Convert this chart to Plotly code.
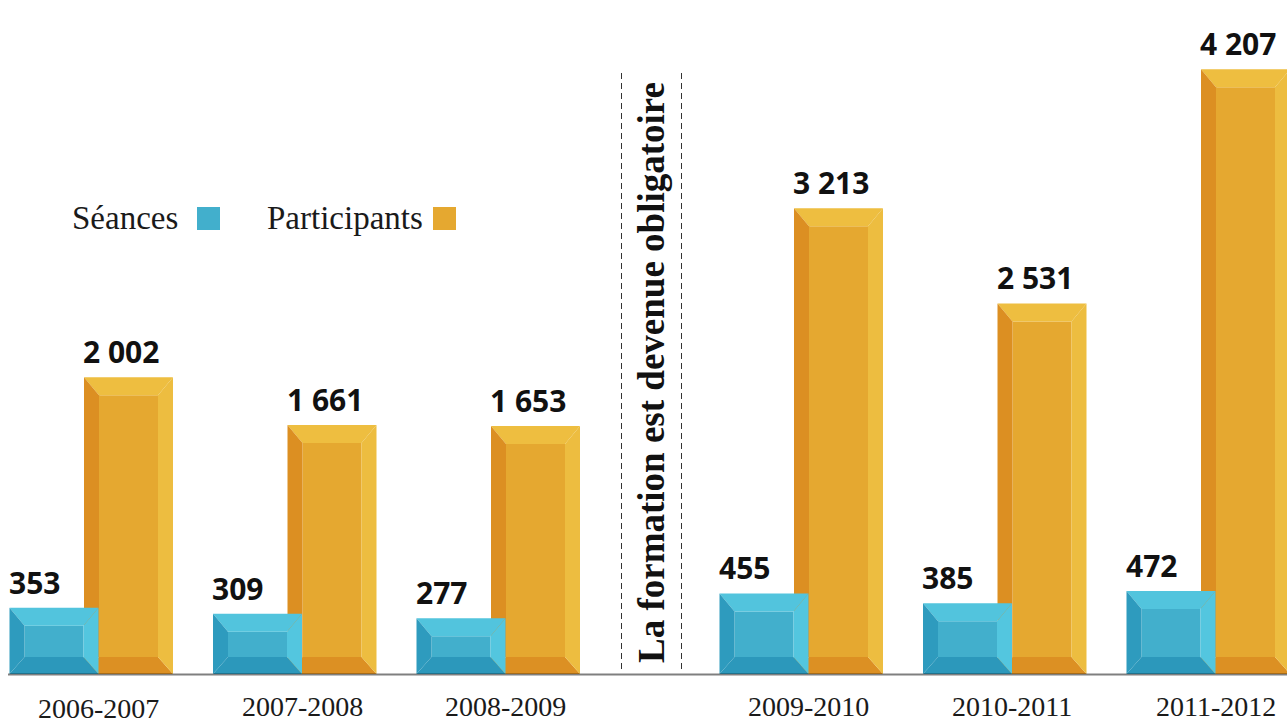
import plotly.graph_objects as go

# ---------------- data ----------------
years = ["2006-2007", "2007-2008", "2008-2009", "2009-2010", "2010-2011", "2011-2012"]
seances = [353, 309, 277, 455, 385, 472]
participants = [2002, 1661, 1653, 3213, 2531, 4207]
series_names = ["Séances", "Participants"]
divider_text = "La formation est devenue obligatoire"

# ---------------- layout constants (pixels) ----------------
W, H = 1287, 725
PX_PER_UNIT = 0.1397      # vertical scale
ZERO_PY = 657             # pixel row of value 0 (front-face bottom)
BEVEL_X = 15
BEVEL_TOP = 18
BEVEL_BOT = 17
BAR_W = 89
GROUP_X0 = 9.5
GROUP_STEP = 203.5
BREAK_EXTRA = 99.5
PART_OFFSET = 74.5

BLUE = dict(front="#42AFCC", top="#52C4DD", left="#2E9BBE", right="#53C6DF", bottom="#2C98BB", legend="#42AFCC")
ORANGE = dict(front="#E5A830", top="#EEBE40", left="#DC8F22", right="#EDBD40", bottom="#DC9023", legend="#E5A830")


def yv(py):
    """pixel row -> data value"""
    return (ZERO_PY - py) / PX_PER_UNIT


def group_left(i):
    return GROUP_X0 + GROUP_STEP * i + (BREAK_EXTRA if i >= 3 else 0)


def poly(points, color):
    d = "M " + " L ".join(f"{x},{y}" for x, y in points) + " Z"
    return dict(type="path", path=d, xref="x", yref="y", fillcolor=color,
                line=dict(width=0), layer="above")


def bevel_bar(xl, value, col):
    xr = xl + BAR_W
    yt = value
    yb = yv(ZERO_PY + BEVEL_BOT)
    ixl, ixr = xl + BEVEL_X, xr - BEVEL_X
    iyt = value - BEVEL_TOP / PX_PER_UNIT
    iyb = 0
    return [
        poly([(ixl, iyb), (ixr, iyb), (ixr, iyt), (ixl, iyt)], col["front"]),
        poly([(xl, yt), (xr, yt), (ixr, iyt), (ixl, iyt)], col["top"]),
        poly([(xl, yb), (xr, yb), (ixr, iyb), (ixl, iyb)], col["bottom"]),
        poly([(xl, yt), (ixl, iyt), (ixl, iyb), (xl, yb)], col["left"]),
        poly([(xr, yt), (ixr, iyt), (ixr, iyb), (xr, yb)], col["right"]),
    ]


def fmt(v):
    return f"{v:,}".replace(",", " ")


fig = go.Figure()
fig.add_trace(go.Scatter(x=[0], y=[0], mode="markers", marker=dict(opacity=0),
                         hoverinfo="skip", showlegend=False))

shapes = []
annotations = []
label_font = dict(family="Open Sans", size=30, color="#111111")

for i, yr in enumerate(years):
    gl = group_left(i)
    pl = gl + PART_OFFSET
    # participants first, then séances on top
    shapes += bevel_bar(pl, participants[i], ORANGE)
    shapes += bevel_bar(gl, seances[i], BLUE)
    for xl, v in ((gl, seances[i]), (pl, participants[i])):
        annotations.append(dict(x=xl, y=v, xref="x", yref="y", text=f"<b>{fmt(v)}</b>",
                                showarrow=False, xanchor="left", yanchor="bottom",
                                xshift=-3, yshift=3, font=label_font))
    annotations.append(dict(x=gl + 89, y=yv(708 if i == 0 else 706), xref="x", yref="y",
                            text=yr, showarrow=False, xanchor="center", yanchor="middle",
                            borderpad=0,
                            font=dict(family="Liberation Serif", size=28, color="#1a1a1a")))

# baseline
shapes.append(dict(type="line", xref="x", yref="y", x0=8, x1=W, y0=yv(674.5), y1=yv(674.5),
                   line=dict(color="rgba(0,0,0,0.5)", width=2), layer="above"))

# divider dashed lines
for xd in (621.5, 681.5):
    shapes.append(dict(type="line", xref="x", yref="y", x0=xd, x1=xd, y0=yv(73), y1=yv(672),
                       line=dict(color="#333333", width=1, dash="6px,4px"), layer="above"))
annotations.append(dict(x=651, y=yv(373), xref="x", yref="y", text=f"<b>{divider_text}</b>",
                        textangle=-90, showarrow=False, xanchor="center", yanchor="middle",
                        font=dict(family="Liberation Serif", size=37, color="#111111")))

# legend
leg_font = dict(family="Liberation Serif", size=33, color="#1a1a1a")
for name, tx, sq, col in ((series_names[0], 70, 197, BLUE), (series_names[1], 265, 433, ORANGE)):
    annotations.append(dict(x=tx, y=yv(218), xref="x", yref="y", text=name, showarrow=False,
                            xanchor="left", yanchor="middle", font=leg_font))
    shapes.append(dict(type="rect", xref="x", yref="y", x0=sq, x1=sq + 23, y0=yv(230), y1=yv(207),
                       fillcolor=col["legend"], line=dict(width=0)))

fig.update_layout(
    width=W, height=H, margin=dict(l=0, r=0, t=0, b=0),
    paper_bgcolor="white", plot_bgcolor="white",
    xaxis=dict(range=[0, W], visible=False, fixedrange=True),
    yaxis=dict(range=[yv(H), yv(0)], visible=False, fixedrange=True),
    shapes=shapes, annotations=annotations, showlegend=False, hovermode=False,
)

fig.write_html("out.html", config={"displayModeBar": False},
               post_script="document.body.style.margin='0';document.body.style.overflow='hidden';")
